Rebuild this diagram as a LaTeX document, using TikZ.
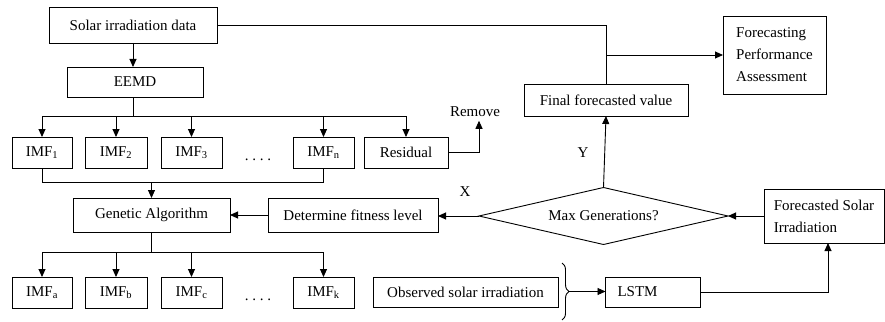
\documentclass[tikz,border=0pt]{standalone}
\usepackage{fontspec}
\setmainfont{Liberation Serif}
\usetikzlibrary{arrows.meta,shapes.geometric,decorations.pathreplacing}

\begin{document}
\begin{tikzpicture}[x=1pt,y=-1pt,line width=0.9pt,
	font=\fontsize{15}{22}\selectfont,
	blk/.style={draw,rectangle,inner sep=0pt,outer sep=0pt,minimum height=31pt},
	dec/.style={draw,diamond,aspect=4.4,inner sep=0pt,outer sep=0pt,minimum width=249pt,minimum height=57pt},
	>={Triangle[length=8pt,width=7pt]}]
	
	\useasboundingbox (0,0) rectangle (885,321);
	
	\node[blk,minimum width=168pt,minimum height=36pt] (solar) at (133,25) {Solar irradiation data};
	\node[blk,minimum width=136pt,minimum height=30pt] (eemd) at (135,82) {EEMD};
	
	\node[blk,minimum width=60pt] (imf1) at (42,152.5) {IMF\textsubscript{1}};
	\node[blk,minimum width=62pt] (imf2) at (116,152.5) {IMF\textsubscript{2}};
	\node[blk,minimum width=61pt] (imf3) at (191.5,152.5) {IMF\textsubscript{3}};
	\node[anchor=base] (dots1) at (258,160) {.\ .\ .\ .};
	\node[blk,minimum width=61pt] (imfn) at (323.5,152.5) {IMF\textsubscript{n}};
	\node[blk,minimum width=84pt] (res) at (406,152.5) {Residual};
	\node (remove) at (475,112) {Remove};
	
	\node[blk,minimum width=157pt,minimum height=34pt] (ga) at (151.5,215) {Genetic Algorithm};
	\node[blk,minimum width=170pt,minimum height=34pt] (fit) at (353,215) {Determine fitness level};
	\node[dec] (maxgen) at (603.5,216) {Max Generations?};
	\node (xlab) at (465,192) {X};
	\node (ylab) at (583,153) {Y};
	\node[blk,minimum width=164pt,minimum height=32pt] (final) at (606,100) {Final forecasted value};
	\node[blk,minimum width=103pt,minimum height=78pt,align=left] (assess) at (774.5,55) {Forecasting\\Performance\\Assessment};
	\node[blk,minimum width=120pt,minimum height=54pt,align=left] (fsi) at (824,216) {Forecasted Solar\\Irradiation};
	
	\node[blk,minimum width=60pt] (imfa) at (42,292.5) {IMF\textsubscript{a}};
	\node[blk,minimum width=62pt] (imfb) at (116,292.5) {IMF\textsubscript{b}};
	\node[blk,minimum width=61pt] (imfc) at (191.5,292.5) {IMF\textsubscript{c}};
	\node[anchor=base] (dots2) at (258,300) {.\ .\ .\ .};
	\node[blk,minimum width=61pt] (imfk) at (323.5,292.5) {IMF\textsubscript{k}};
	\node[blk,minimum width=185pt,minimum height=30pt] (obs) at (465.5,292) {Observed solar irradiation};
	\node[blk,minimum width=95pt,minimum height=30pt,text width=71pt,inner xsep=12pt,align=left] (lstm) at (653,292) {LSTM};
	
	\coordinate (bus1) at (133,116);
	\coordinate (bus2) at (152,182);
	\coordinate (bus3) at (152,252);
	\coordinate (tip) at (569,291.5);
	
	\draw[->] (solar.south) -- (solar.south |- eemd.north);
	\draw (solar.south |- eemd.south) -- (solar.south |- bus1);
	\draw (imf1.north |- bus1) -- (res.north |- bus1);
	\draw[->] (imf1.north |- bus1) -- (imf1.north);
	\draw[->] (imf2.north |- bus1) -- (imf2.north);
	\draw[->] (imf3.north |- bus1) -- (imf3.north);
	\draw[->] (imfn.north |- bus1) -- (imfn.north);
	\draw[->] (res.north |- bus1) -- (res.north);
	
	\draw[->] (res.east) -| ([xshift=4pt]remove.south);
	
	\draw (imf1.south) |- (imfn.south |- bus2) -- (imfn.south);
	\draw[->] (ga.north |- bus2) -- (ga.north);
	
	\draw[->] (fit.west) -- (ga.east);
	\draw[->] (maxgen.west) -- (maxgen.west -| fit.east);
	\draw[->] (fsi.west) -- (maxgen.east);
	\draw[->] (maxgen.north) -- (final.south);
	
	\draw (solar.east) -| (final.north);
	\draw[->] (final.north |- assess.west) -- (assess.west);
	
	\draw (ga.south) -- (ga.south |- bus3);
	\draw (imfa.north |- bus3) -- (imfk.north |- bus3);
	\draw[->] (imfa.north |- bus3) -- (imfa.north);
	\draw[->] (imfb.north |- bus3) -- (imfb.north);
	\draw[->] (imfc.north |- bus3) -- (imfc.north);
	\draw[->] (imfk.north |- bus3) -- (imfk.north);
	
	\draw[decorate,decoration={brace,amplitude=7pt}] (562,263) -- (562,320);
	\draw[->] (tip) -- (tip -| lstm.west);
	\draw[->] (lstm.east) -| ([xshift=4pt]fsi.south);
	
\end{tikzpicture}
\end{document}
